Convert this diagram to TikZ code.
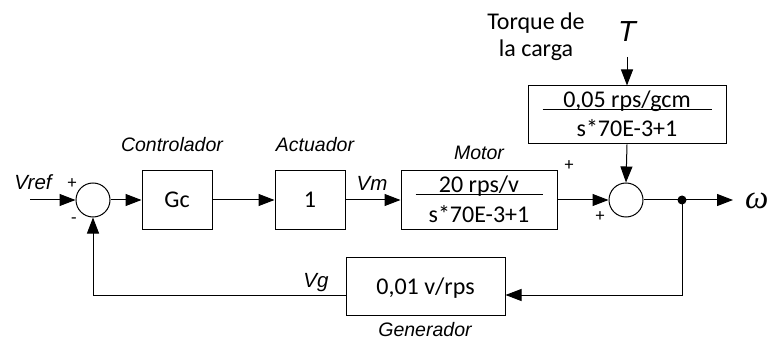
\documentclass[tikz,border=0pt]{standalone}
\usepackage{fontspec}
\setmainfont{Carlito}
\newfontfamily\lblfont{Liberation Sans}
\newfontfamily\serfont{Liberation Serif}
\usetikzlibrary{positioning,arrows.meta,calc}

\begin{document}
\begin{tikzpicture}[x=1pt,y=1pt,
  block/.style={rectangle,draw,line width=1pt,inner sep=0pt,text depth=0pt,font=\fontsize{24}{27}\selectfont},
  sumnode/.style={circle,draw,line width=1pt,minimum size=34pt,inner sep=0pt},
  arr/.style={line width=1pt,-{Triangle[length=16pt,width=12pt]}},
  ttl/.style={font=\lblfont\itshape\fontsize{19.5}{22}\selectfont},
  sig/.style={font=\lblfont\itshape\fontsize{20.5}{23}\selectfont},
  sgn/.style={font=\fontsize{18}{20}\selectfont,inner sep=0pt}]
\useasboundingbox (0,0) rectangle (768,343);
% Blocks of the loop
\node[sumnode] (sum1) at (93,143) {};
\node[block,minimum width=70pt,minimum height=59pt] (gc) at (177,143) {Gc};
\node[block,minimum width=70pt,minimum height=59pt] (act) at (310,143) {1};
\node[block,minimum width=156pt,minimum height=58pt] (motor) at (479,143) {};
\node[sumnode] (sum2) at (626,143) {};
\node[block,minimum width=198pt,minimum height=58pt] (load) at (627,228) {};
\node[block,minimum width=159pt,minimum height=58pt] (gen) at (425.5,57) {0,01 v/rps};
\fill (682,143) circle (4.5pt) coordinate (dot);
% Fractions inside the motor and load blocks
\node[anchor=base,font=\fontsize{24}{27}\selectfont] (motnum) at ($(motor.center)+(0,7)$) {20 rps/v};
\node[anchor=base,font=\fontsize{24}{27}\selectfont] (motden) at ($(motor.center)+(0,-22)$) {s*70E-3+1};
\draw[line width=1pt] ($(motor.center)+(-63.5,5)$) -- ++(127,0);
\node[anchor=base,font=\fontsize{24}{27}\selectfont] (loadnum) at ($(load.center)+(0,7)$) {0,05 rps/gcm};
\node[anchor=base,font=\fontsize{24}{27}\selectfont] (loadden) at ($(load.center)+(0,-22)$) {s*70E-3+1};
\draw[line width=1pt] ($(load.center)+(-84.5,5)$) -- ++(169,0);
% Free ends
\coordinate (vin) at (30,143);
\coordinate (tin) at (627,286);
\coordinate (out) at (733,143);
\coordinate (fb) at (0,48);
% Connectors
\draw[arr] (vin) -- (sum1);
\draw[arr] (sum1) -- (gc);
\draw[arr] (gc) -- (act);
\draw[arr] (act) -- (motor);
\draw[arr] (motor) -- (sum2);
\draw[arr] (tin) -- (load.north);
\draw[arr] (load.south) -- (sum2.north);
\draw[line width=1pt] (sum2) -- (dot);
\draw[arr] (dot) -- (out);
\draw[arr] (dot) |- (gen.east |- fb);
\draw[arr] (gen.west |- fb) -| (sum1.south);
% Labels
\node[sig] (vreflbl) at (33,161) {Vref};
\node[sgn] (p1) at (72,159) {+};
\node[sgn] (m1) at (74,122) {-};
\node[ttl] (ctrllbl) at (172,198) {Controlador};
\node[ttl] (actlbl) at (315,198) {Actuador};
\node[sig] (vmlbl) at (372,160) {Vm};
\node[ttl] (motlbl) at (479,190) {Motor};
\node[sgn] (p2) at (569,177) {+};
\node[sgn] (p3) at (600,126) {+};
\node[align=center,font=\fontsize{24}{27}\selectfont] (torque) at (536,306) {Torque de\\la carga};
\node[font=\lblfont\itshape\fontsize{29}{32}\selectfont] (tlbl) at (627,311) {T};
\node[anchor=base west,inner sep=0pt,font=\serfont\itshape\fontsize{33}{36}\selectfont] (wlbl) at (745,135) {ω};
\node[sig] (vglbl) at (316,60) {Vg};
\node[ttl] (genlbl) at (425,13) {Generador};
\end{tikzpicture}
\end{document}
